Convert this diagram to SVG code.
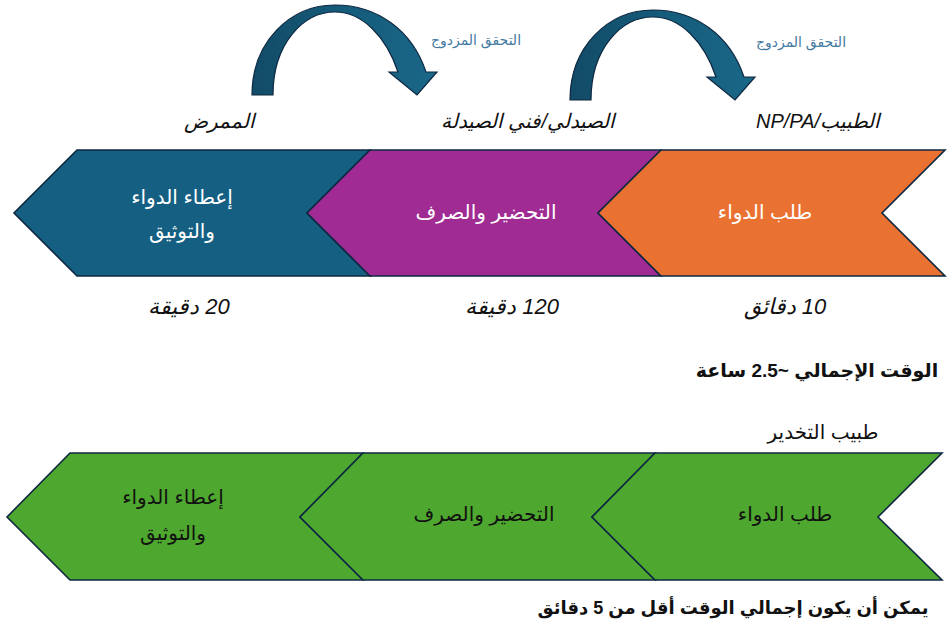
<svg xmlns="http://www.w3.org/2000/svg" width="947" height="630" viewBox="0 0 947 630">
  <defs>
    <linearGradient id="arcFill" x1="0" y1="0" x2="1" y2="0">
      <stop offset="0" stop-color="#124b66"/>
      <stop offset="0.45" stop-color="#155a79"/>
      <stop offset="1" stop-color="#1a6788"/>
    </linearGradient>
    <path id="curvedArrow" d="M252,95 C252,42 290,5 335,5 C377,5 412,30 426,72 L437,72 L417,95 L389,72 L398,72 C386,36 362,12 335,12 C303,12 273,44 273,95 Z"/>
  </defs>
  <style>
    .step { stroke: #0e2841; stroke-width: 1.6; stroke-linejoin: miter; }
    .arc { fill: url(#arcFill); stroke: #0e2841; stroke-width: 1.2; }
    text { font-family: "Liberation Sans", "DejaVu Sans", "Noto Sans", sans-serif; direction: rtl; text-anchor: middle; }
    .role { font-size: 20px; font-style: italic; fill: #111; }
    .check { font-size: 14px; fill: #457aa0; }
    .inWhite { font-size: 20px; fill: #ffffff; }
    .inBlack { font-size: 20px; fill: #111; }
    .dur { font-size: 22px; font-style: italic; fill: #111; }
    .total { font-size: 18px; font-weight: bold; fill: #111; }
  </style>

  <rect width="947" height="630" fill="#ffffff"/>

  <!-- double-check arcs between roles -->
  <g id="connectors">
    <use href="#curvedArrow" class="arc"/>
    <use href="#curvedArrow" class="arc" transform="translate(318,5)"/>
    <text class="check" x="476" y="45">التحقق المزدوج</text>
    <text class="check" x="801" y="47">التحقق المزدوج</text>
  </g>

  <!-- role labels -->
  <g id="roles">
    <text class="role" x="219" y="128">الممرض</text>
    <text class="role" x="528" y="128">الصيدلي/فني الصيدلة</text>
    <text class="role" x="818" y="128">الطبيب/NP/PA</text>
  </g>

  <!-- current process -->
  <g id="administer">
    <polygon class="step" fill="#156082" points="370,150 77,150 14,213 77,276 370,276 307,213"/>
    <text class="inWhite" x="182" y="204">إعطاء الدواء</text>
    <text class="inWhite" x="182" y="238">والتوثيق</text>
  </g>
  <g id="prepare">
    <polygon class="step" fill="#a02b93" points="661,150 370,150 307,213 370,276 661,276 598,213"/>
    <text class="inWhite" x="486" y="219">التحضير والصرف</text>
  </g>
  <g id="order">
    <polygon class="step" fill="#e97132" points="945,150 661,150 598,213 661,276 945,276 882,213"/>
    <text class="inWhite" x="765" y="219">طلب الدواء</text>
  </g>

  <!-- durations -->
  <g id="durations">
    <text class="dur" x="189" y="314">20 دقيقة</text>
    <text class="dur" x="512" y="314">120 دقيقة</text>
    <text class="dur" x="785" y="314">10 دقائق</text>
  </g>

  <g id="total-current">
    <text class="total" x="817" y="377" style="font-size:19px">الوقت الإجمالي ~2.5 ساعة</text>
  </g>

  <!-- anesthesiologist process -->
  <g id="anesthesiologist">
    <text class="inBlack" x="823" y="439">طبيب التخدير</text>
  </g>
  <g id="administer-green">
    <polygon class="step" fill="#4ea72e" points="363,453 70,453 7,517 70,580 363,580 300,517"/>
    <text class="inBlack" x="173" y="504">إعطاء الدواء</text>
    <text class="inBlack" x="173" y="540">والتوثيق</text>
  </g>
  <g id="prepare-green">
    <polygon class="step" fill="#4ea72e" points="655,453 363,453 300,517 363,580 655,580 592,517"/>
    <text class="inBlack" x="484" y="521">التحضير والصرف</text>
  </g>
  <g id="order-green">
    <polygon class="step" fill="#4ea72e" points="942,453 655,453 592,517 655,580 942,580 878,517"/>
    <text class="inBlack" x="785" y="521">طلب الدواء</text>
  </g>

  <g id="total-new">
    <text class="total" x="733" y="614">يمكن أن يكون إجمالي الوقت أقل من 5 دقائق</text>
  </g>
</svg>
